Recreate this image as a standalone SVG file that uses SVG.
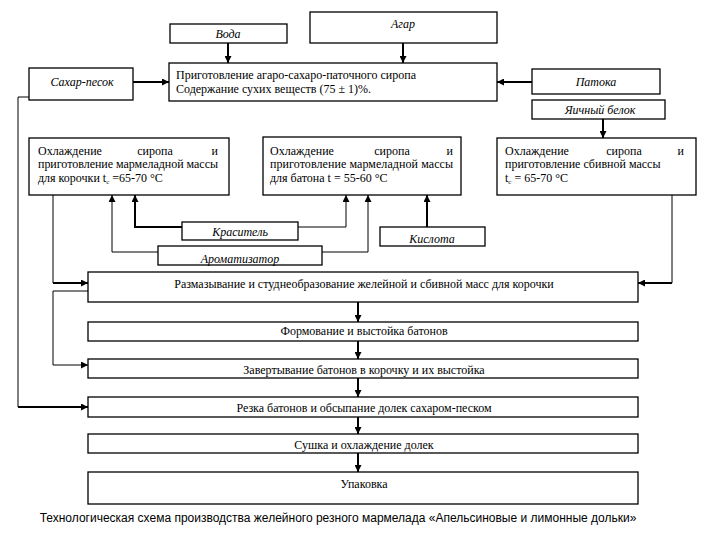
<svg xmlns="http://www.w3.org/2000/svg" width="720" height="540" viewBox="0 0 720 540">
<defs>
<marker id="ah" viewBox="0 0 10 10" refX="10" refY="5" markerWidth="7" markerHeight="7" markerUnits="userSpaceOnUse" orient="auto">
<path d="M0,0 L10,5 L0,10 z" fill="#000"/>
</marker>
<style>
.box{fill:#fff;stroke:#000;stroke-width:1.3}
.t{font-family:'Liberation Serif','DejaVu Serif',serif;font-size:12px;fill:#000}
.c{text-anchor:middle}
.e{text-anchor:end}
.i{font-family:'Liberation Serif','DejaVu Serif',serif;font-style:italic;font-size:12px;fill:#000;text-anchor:middle}
.ln{fill:none;stroke:#000;stroke-width:1}
.th{fill:none;stroke:#000;stroke-width:2}
.cap{font-family:'Liberation Sans',Arial,sans-serif;font-size:12px;fill:#000;text-anchor:middle}
</style>
</defs>
<rect width="720" height="540" fill="#fff"/>

<g id="connectors">
<path class="th" d="M228,43 V63" marker-end="url(#ah)"/>
<path class="th" d="M403,43 V63" marker-end="url(#ah)"/>
<path class="th" d="M133,82 H169" marker-end="url(#ah)"/>
<path class="th" d="M532,82 H497" marker-end="url(#ah)"/>
<path class="th" d="M603,119 V138" marker-end="url(#ah)"/>
<path class="ln" d="M29,97 H18 V407"/>
<path class="th" d="M18,407 H88" marker-end="url(#ah)"/>
<path class="th" d="M182,227 H135 V195" marker-end="url(#ah)"/>
<path class="ln" d="M158,252 H112 V195" marker-end="url(#ah)"/>
<path class="ln" d="M298,227 H346 V195" marker-end="url(#ah)"/>
<path class="ln" d="M322,252 H368 V195" marker-end="url(#ah)"/>
<path class="th" d="M427,227 V195" marker-end="url(#ah)"/>
<path class="ln" d="M53,195 V283"/>
<path class="th" d="M53,283 H88" marker-end="url(#ah)"/>
<path class="ln" d="M88,291 H53 V365 H88" marker-end="url(#ah)"/>
<path class="ln" d="M672,195 V283"/>
<path class="th" d="M672,283 H638" marker-end="url(#ah)"/>
<path class="th" d="M358,302 V322" marker-end="url(#ah)"/>
<path class="th" d="M358,341 V359" marker-end="url(#ah)"/>
<path class="th" d="M358,378 V397" marker-end="url(#ah)"/>
<path class="th" d="M358,417 V434" marker-end="url(#ah)"/>
<path class="th" d="M358,453 V472" marker-end="url(#ah)"/>
</g>

<g id="voda"><rect class="box" x="170" y="24" width="117" height="19"/><text class="i" x="228" y="38">Вода</text></g>
<g id="agar"><rect class="box" x="310" y="12" width="187" height="31"/><text class="i" x="403" y="28">Агар</text></g>
<g id="sakhar"><rect class="box" x="29" y="68" width="104" height="32"/><text class="i" x="82" y="86">Сахар-песок</text></g>
<g id="sirop"><rect class="box" x="169" y="63" width="328" height="38"/>
<text class="t" x="176" y="79">Приготовление агаро-сахаро-паточного сиропа</text>
<text class="t" x="176" y="93">Содержание сухих веществ (75 ± 1)%.</text></g>
<g id="patoka"><rect class="box" x="532" y="69" width="128" height="25"/><text class="i" x="596" y="86">Патока</text></g>
<g id="belok"><rect class="box" x="532" y="100" width="133" height="19"/><text class="i" x="600" y="114">Яичный белок</text></g>

<g id="cool1"><rect class="box" x="29" y="138" width="200" height="57"/>
<text class="t" x="38" y="155">Охлаждение</text><text class="t c" x="155" y="155">сиропа</text><text class="t e" x="218" y="155">и</text>
<text class="t" x="38" y="168" textLength="180" lengthAdjust="spacing">приготовление мармеладной массы</text>
<text class="t" x="38" y="182">для корочки t<tspan font-size="7" dy="2">с</tspan><tspan dy="-2"> =65-70 °С</tspan></text></g>

<g id="cool2"><rect class="box" x="263" y="137" width="198" height="58"/>
<text class="t" x="270" y="155">Охлаждение</text><text class="t c" x="392" y="155">сиропа</text><text class="t e" x="453" y="155">и</text>
<text class="t" x="270" y="168" textLength="183" lengthAdjust="spacing">приготовление мармеладной массы</text>
<text class="t" x="270" y="182">для батона t = 55-60 °С</text></g>

<g id="cool3"><rect class="box" x="497" y="138" width="199" height="57"/>
<text class="t" x="505" y="155">Охлаждение</text><text class="t c" x="624" y="155">сиропа</text><text class="t e" x="684" y="155">и</text>
<text class="t" x="505" y="168">приготовление сбивной массы</text>
<text class="t" x="505" y="182">t<tspan font-size="7" dy="2">с</tspan><tspan dy="-2"> = 65-70 °С</tspan></text></g>

<g id="krasitel"><rect class="box" x="182" y="222" width="116" height="18"/><text class="i" x="240" y="236">Краситель</text></g>
<g id="aromatizator"><rect class="box" x="158" y="246" width="164" height="19"/><text class="i" x="240" y="263">Ароматизатор</text></g>
<g id="kislota"><rect class="box" x="380" y="227" width="105" height="19"/><text class="i" x="432" y="243">Кислота</text></g>

<g id="razm"><rect class="box" x="88" y="272" width="550" height="30"/><text class="t c" x="364" y="288">Размазывание и студнеобразование желейной и сбивной масс для корочки</text></g>
<g id="form"><rect class="box" x="88" y="322" width="550" height="19"/><text class="t c" x="364" y="335">Формование и выстойка батонов</text></g>
<g id="zavert"><rect class="box" x="88" y="359" width="550" height="19"/><text class="t c" x="364" y="374">Завертывание батонов в корочку и их выстойка</text></g>
<g id="rezka"><rect class="box" x="88" y="397" width="550" height="20"/><text class="t c" x="364" y="412">Резка батонов и обсыпание долек сахаром-песком</text></g>
<g id="sushka"><rect class="box" x="88" y="434" width="550" height="19"/><text class="t c" x="364" y="449">Сушка и охлаждение долек</text></g>
<g id="upakovka"><rect class="box" x="88" y="472" width="550" height="32"/><text class="t c" x="364" y="488">Упаковка</text></g>

<text class="cap" x="338" y="522">Технологическая схема производства желейного резного мармелада «Апельсиновые и лимонные дольки»</text>
</svg>
